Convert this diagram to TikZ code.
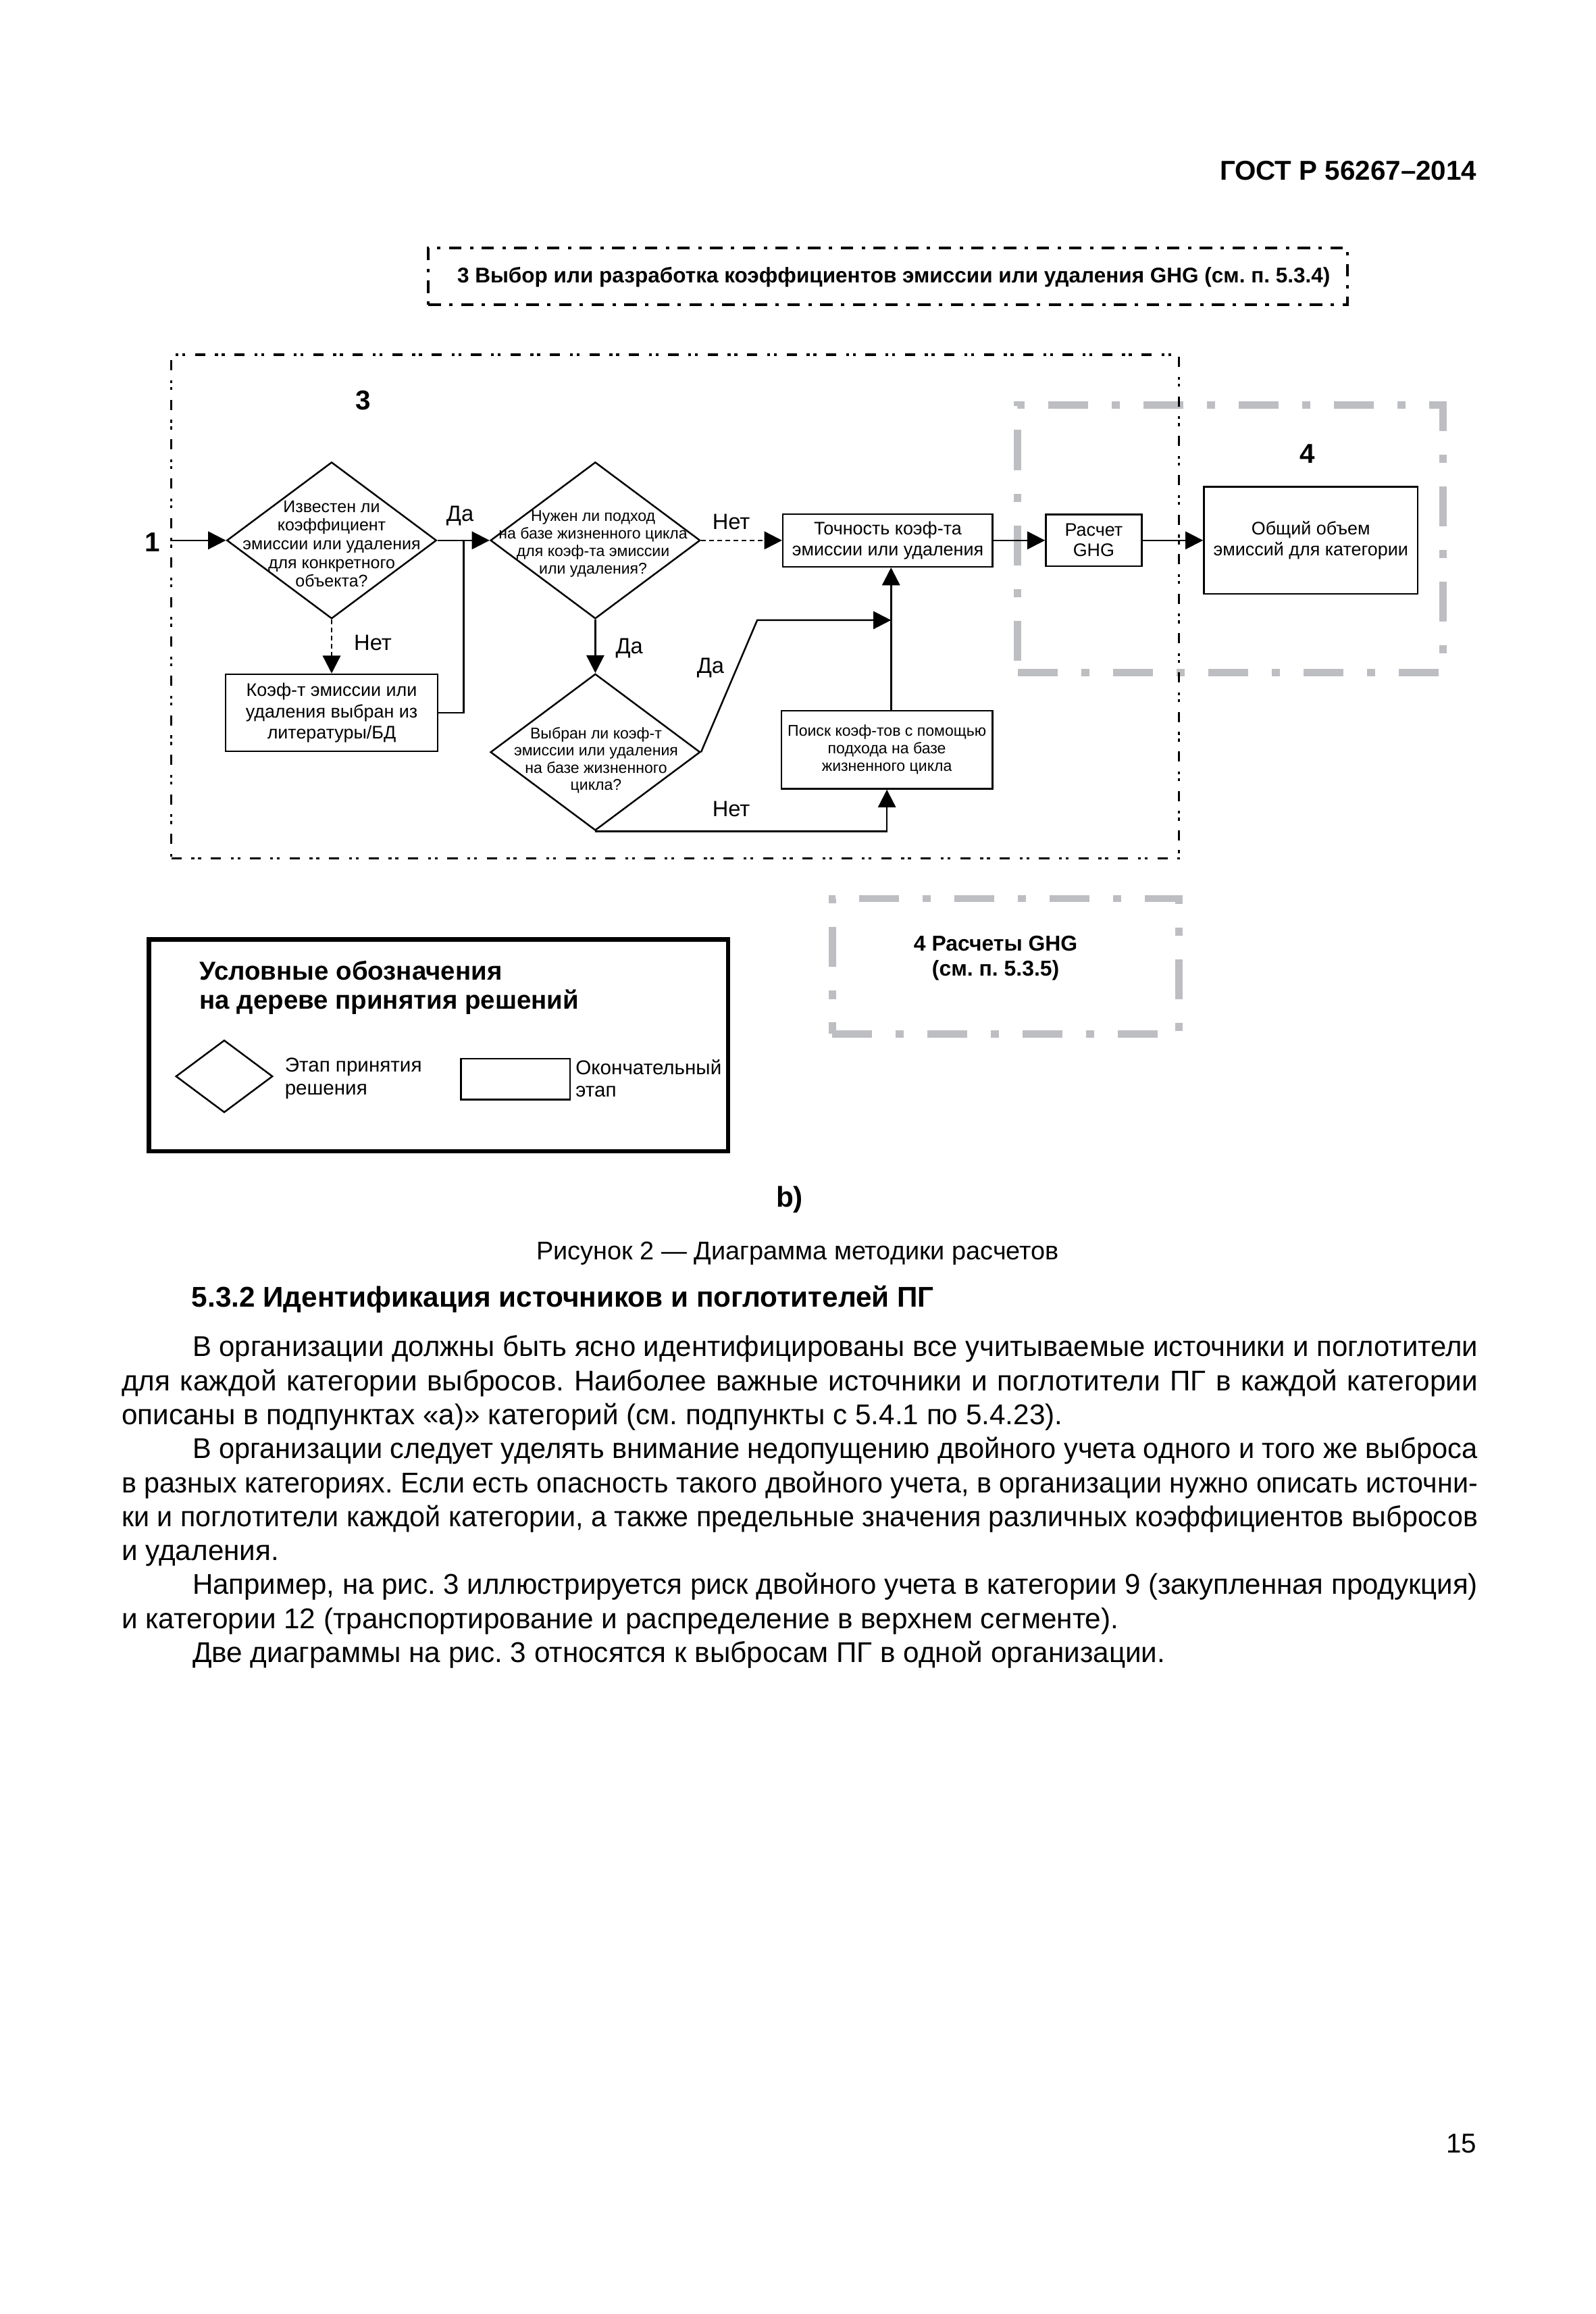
\documentclass[tikz,border=0pt]{standalone}
\usepackage{fontspec}
\setmainfont{Liberation Sans}
\usepackage{graphicx}
\usetikzlibrary{shapes.geometric,arrows.meta,calc}

\definecolor{gframecol}{RGB}{189,190,194}

\newlength\natw
\newcommand\fitline[2]{\settowidth\natw{#2}\ifdim\natw>#1\relax\pgfmathsetmacro\fitr{(#1)/(\the\natw)}\scalebox{\fitr}[1]{#2}\else\makebox[#1][s]{#2}\fi}

\tikzset{
  box/.style={draw, line width=0.65pt, inner sep=0pt, align=center},
  dia/.style={draw, diamond, line width=0.65pt, inner sep=0pt},
  arr/.style={line width=0.65pt, -{Triangle[length=2.4mm,width=2.4mm]}},
  darr/.style={arr, dash pattern=on 0.65mm off 0.45mm},
  conn/.style={line width=0.65pt},
  lbl/.style={font=\fontsize{8.5}{10}\selectfont, inner sep=0pt},
  bignum/.style={font=\bfseries\fontsize{10.5}{12}\selectfont, inner sep=0pt},
  grayframe/.style={draw=gframecol, line width=1mm, dash pattern=on 5.4mm off 3.2mm on 1.1mm off 3.2mm, inner sep=0pt},
  frthree/.style={draw, line width=0.3mm, dash pattern=on 1.38mm off 1.32mm on 0.4mm off 0.52mm on 0.4mm off 1.32mm, inner sep=0pt},
  topframe/.style={draw, line width=0.36mm, dash pattern=on 1.68mm off 1.14mm on 0.46mm off 1.14mm, inner sep=0pt},
  ttxt/.style={align=center, inner sep=0pt},
  bodyl/.style={font=\fontsize{11}{13}\selectfont, inner sep=0pt, anchor=base west},
}

\begin{document}
\frenchspacing
\begin{tikzpicture}[x=0.2mm, y=-0.2mm]
\fill[white] (0,0) rectangle (1080,1566);
\useasboundingbox (0,0) rectangle (1080,1566);

% page header
\node[anchor=base east, font=\bfseries\fontsize{10.5}{12}\selectfont, inner sep=0pt] (gost) at (1000,122) {ГОСТ Р 56267–2014};

% top title frame
\node[topframe, minimum width=124.4mm, minimum height=7.6mm] (topbox) at (601,187) {};
\node[font=\bfseries\fontsize{8.2}{9.8}\selectfont, inner sep=0pt] (toptxt) at (605,187.5) {3 Выбор или разработка коэффициентов эмиссии или удаления GHG (см. п. 5.3.4)};

% gray frames
\node[grayframe, minimum width=57.6mm, minimum height=36.2mm] (fr4) at (833,364.5) {};
\node[grayframe, minimum width=46.96mm, minimum height=18.3mm] (fr4b) at (680.8,653.85) {};
\node[ttxt, font=\bfseries\fontsize{8.3}{9.6}\selectfont] (calc) at (674,648.5) {4 Расчеты GHG\\(см. п. 5.3.5)};

% frame 3
\node[frthree, minimum width=136.4mm, minimum height=68.2mm] (fr3) at (457,410.5) {};

% labels
\node[bignum] (l1) at (103,367) {1};
\node[bignum] (l3) at (246,271) {3};
\node[bignum] (l4) at (885,307) {4};

% diamonds
\node[dia, minimum width=28.4mm, minimum height=21.2mm] (d1) at (224.5,365.7) {};
\node[ttxt, font=\fontsize{6.5}{7.2}\selectfont] (d1t) at (224.5,368) {Известен ли\\коэффициент\\эмиссии или удаления\\для конкретного\\объекта?};

\node[dia, minimum width=28.4mm, minimum height=21.2mm] (d2) at (403,365.7) {};
\node[ttxt, font=\fontsize{6}{6.8}\selectfont] (d2t) at (401.5,368) {Нужен ли подход\\на базе жизненного цикла\\для коэф-та эмиссии\\или удаления?};

\node[dia, minimum width=28.4mm, minimum height=21.2mm] (d3) at (403,509) {};
\node[ttxt, font=\fontsize{6}{6.65}\selectfont] (d3t) at (403.5,514.5) {Выбран ли коэф-т\\эмиссии или удаления\\на базе жизненного\\цикла?};

% boxes
\node[box, minimum width=28.68mm, minimum height=10.44mm, font=\fontsize{7}{8.2}\selectfont] (b1) at (224.5,482.4) {Коэф-т эмиссии или\\удаления выбран из\\литературы/БД};
\node[box, minimum width=28.4mm, minimum height=7.12mm, font=\fontsize{7}{8}\selectfont] (bT) at (601,365.7) {Точность коэф-та\\эмиссии или удаления};
\node[box, minimum width=28.6mm, minimum height=10.58mm, font=\fontsize{6}{6.7}\selectfont] (bP) at (600.4,507.35) {Поиск коэф-тов с помощью\\подхода на базе\\жизненного цикла};
\node[box, minimum width=12.98mm, minimum height=7mm, font=\fontsize{7}{7.8}\selectfont] (bR) at (740.45,365.7) {Расчет\\GHG};
\node[box, minimum width=28.94mm, minimum height=14.5mm, font=\fontsize{7}{8}\selectfont] (bO) at (887.35,365.7) {Общий объем\\эмиссий для категории};

% connectors
\coordinate (start) at (116,365.7);
\draw[arr] (start) -- (d1.west);
\draw[arr] (d1.east) -- (d2.west);
\node[lbl] (yes1) at (311.4,349) {Да};
\draw[darr] (d1.south) -- (b1.north);
\node[lbl] (no1) at (252.4,435) {Нет};
\coordinate (jn) at (313.8,365.7);
\draw[conn] (b1.east) -| (jn);
\draw[darr] (d2.east) -- (bT.west);
\node[lbl] (no2) at (495,353) {Нет};
\draw[arr] (d2.south) -- (d3.north);
\node[lbl] (yes2) at (426,438.5) {Да};
\coordinate (bend) at (512.6,419.7);
\coordinate (vx) at (603.2,419.7);
\draw[arr] (d3.east) -- (bend) -- (vx);
\node[lbl] (yes3) at (481,452) {Да};
\draw[arr] (bP.north -| vx) -- (bT.south -| vx);
\draw[arr] (d3.south) -| (bP.south);
\node[lbl] (no3) at (495,547.6) {Нет};
\draw[arr] (bT.east) -- (bR.west);
\draw[arr] (bR.east) -- (bO.west);

% legend
\node[draw, line width=0.6mm, minimum width=78.38mm, minimum height=28.66mm, inner sep=0pt] (leg) at (296.85,707.35) {};
\node[anchor=west, align=left, font=\bfseries\fontsize{10}{11.2}\selectfont, inner sep=0pt] (legt) at (134.8,668.6) {Условные обозначения\\на дереве принятия решений};
\node[dia, minimum width=13.12mm, minimum height=9.8mm] (legd) at (151.8,728.4) {};
\node[anchor=west, align=left, font=\fontsize{7.7}{8.7}\selectfont, inner sep=0pt] (legdt) at (192.5,729.8) {Этап принятия\\решения};
\node[draw, line width=0.65pt, minimum width=14.8mm, minimum height=5.54mm, inner sep=0pt] (legr) at (349,730.25) {};
\node[anchor=west, align=left, font=\fontsize{7.7}{8.7}\selectfont, inner sep=0pt] (legrt) at (389.4,729.8) {Окончательный\\этап};

% caption
\node[anchor=base, font=\bfseries\fontsize{11}{13}\selectfont, inner sep=0pt] (fb) at (534.5,817) {b)};
\node[anchor=base, font=\fontsize{9.85}{12}\selectfont, inner sep=0pt] (cap) at (540,852.5) {Рисунок 2 — Диаграмма методики расчетов};

% section heading
\node[anchor=base west, font=\bfseries\fontsize{11}{13}\selectfont, inner sep=0pt] (sec) at (129.4,884.5) {5.3.2 Идентификация источников и поглотителей ПГ};

% body text
\node[bodyl] (p1) at (130,918) {\fitline{174mm}{В организации должны быть ясно идентифицированы все учитываемые источники и поглотители}};
\node[bodyl] (p2) at (82,941) {\fitline{183.6mm}{для каждой категории выбросов. Наиболее важные источники и поглотители ПГ в каждой категории}};
\node[bodyl] (p3) at (82,964) {описаны в подпунктах «а)» категорий (см. подпункты с 5.4.1 по 5.4.23).};
\node[bodyl] (p4) at (130,987) {\fitline{174mm}{В организации следует уделять внимание недопущению двойного учета одного и того же выброса}};
\node[bodyl] (p5) at (82,1010) {\fitline{183.6mm}{в разных категориях. Если есть опасность такого двойного учета, в организации нужно описать источни-}};
\node[bodyl] (p6) at (82,1033) {\fitline{183.6mm}{ки и поглотители каждой категории, а также предельные значения различных коэффициентов выбросов}};
\node[bodyl] (p7) at (82,1056) {и удаления.};
\node[bodyl] (p8) at (130,1079) {\fitline{174mm}{Например, на рис. 3 иллюстрируется риск двойного учета в категории 9 (закупленная продукция)}};
\node[bodyl] (p9) at (82,1102) {и категории 12 (транспортирование и распределение в верхнем сегменте).};
\node[bodyl] (p10) at (130,1125) {Две диаграммы на рис. 3 относятся к выбросам ПГ в одной организации.};

% page number
\node[anchor=base east, font=\fontsize{10.5}{12}\selectfont, inner sep=0pt] (pg) at (1000,1457) {15};
\end{tikzpicture}
\end{document}
